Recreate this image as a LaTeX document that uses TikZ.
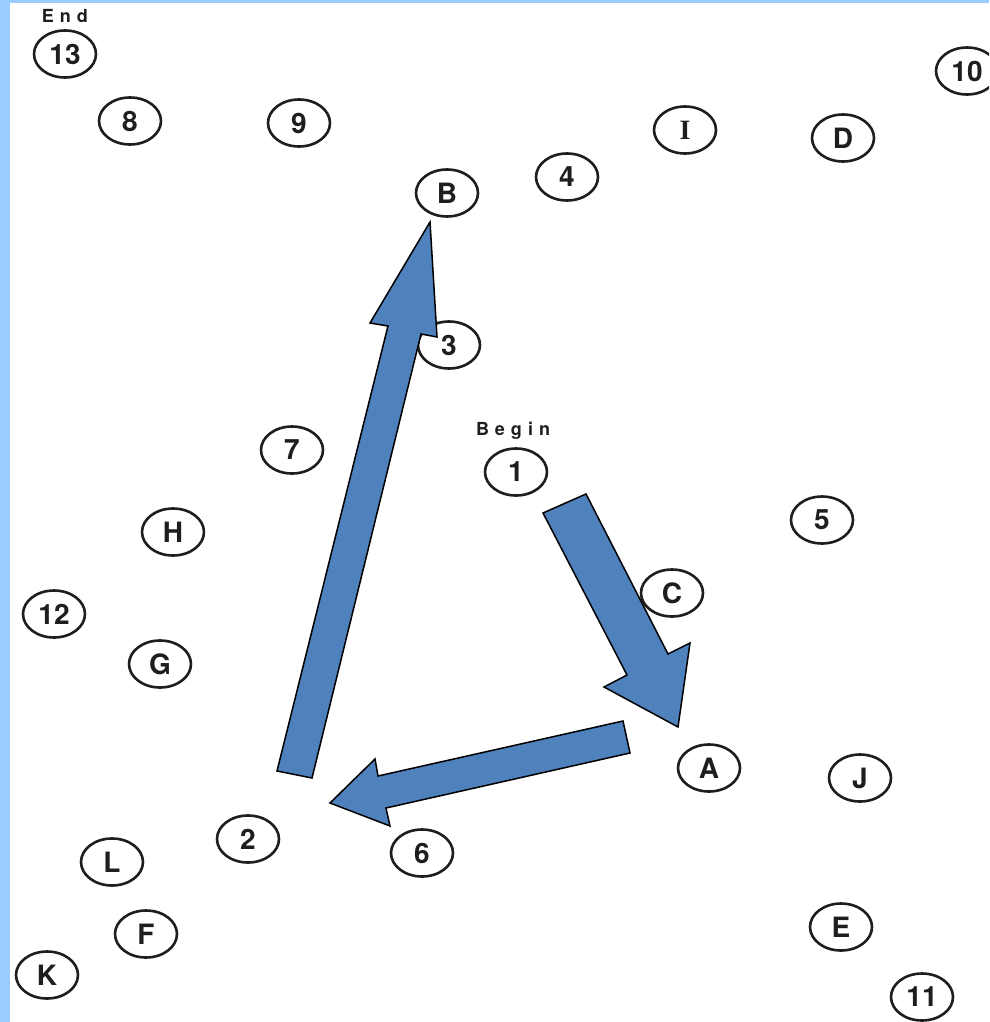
\documentclass[tikz,border=0pt]{standalone}
\usepackage{fontspec}
\setmainfont{TeX Gyre Heros}
\newfontfamily\slabfont{Liberation Serif}
\usetikzlibrary{shapes.geometric}
\definecolor{edgeblue}{RGB}{153,204,255}
\definecolor{arrowblue}{RGB}{79,129,189}
\definecolor{ink}{RGB}{30,30,30}
\begin{document}
\begin{tikzpicture}[x=1pt,y=-1pt,
  spot/.style={draw=ink, line width=2.6pt, ellipse, minimum width=62pt, minimum height=47pt, inner sep=0pt,
    font=\fontsize{28}{28}\selectfont\bfseries, text=ink},
  caption/.style={font=\fontsize{18}{18}\selectfont\bfseries, text=ink, inner sep=0pt},
  blockarrow/.style={fill=arrowblue, draw=black, line width=1.5pt, line join=miter}]
\useasboundingbox (0,0) rectangle (989,1022);
\clip (0,0) rectangle (989,1022);
\fill[white] (0,0) rectangle (989,1022);
\fill[edgeblue] (0,0) rectangle (10,1022);
\fill[edgeblue] (0,0) rectangle (989,3);
% nodes
\node[spot] (n13) at (65,54) {13};
\node[caption] (end) at (65,16) {E\,\,n\,\,d};
\node[spot] (n8) at (130,121) {8};
\node[spot] (n9) at (299,123) {9};
\node[spot] (nB) at (447,193) {B};
\node[spot] (n4) at (567,177) {4};
\node[spot] (nI) at (685,130) {\slabfont I};
\node[spot] (nD) at (843,138) {D};
\node[spot] (n10) at (967,71) {10};
\node[spot] (n3) at (449,345) {3};
\node[spot] (n7) at (292,450) {7};
\node[caption] (begin) at (513,431) {B\,\,e\,\,g\,\,i\,\,n};
\node[spot] (n1) at (516,472) {1};
\node[spot] (n5) at (822,520) {5};
\node[spot] (nH) at (173,532) {H};
\node[spot] (nC) at (672,593) {C};
\node[spot] (n12) at (54,614) {12};
\node[spot] (nG) at (160,664) {G};
\node[spot] (nA) at (709,768) {A};
\node[spot] (nJ) at (860,778) {J};
\node[spot] (n2) at (248,839) {2};
\node[spot] (n6) at (422,853) {6};
\node[spot] (nL) at (112,862) {L};
\node[spot] (nF) at (146,934) {F};
\node[spot] (nE) at (841,927) {E};
\node[spot] (nK) at (47,975) {K};
\node[spot] (n11) at (922,997) {11};
% block arrows
\draw[blockarrow] (543,513) -- (586,494) -- (668,654) -- (690,643) -- (678,727) -- (604,687) -- (627,675) -- cycle;
\draw[blockarrow] (623,721) -- (630,753) -- (386,808) -- (390,826) -- (330,803) -- (375,759) -- (378,776) -- cycle;
\draw[blockarrow] (277,771) -- (312,778) -- (421,334) -- (437,337) -- (430,222) -- (370,323) -- (388,326) -- cycle;
\end{tikzpicture}
\end{document}
